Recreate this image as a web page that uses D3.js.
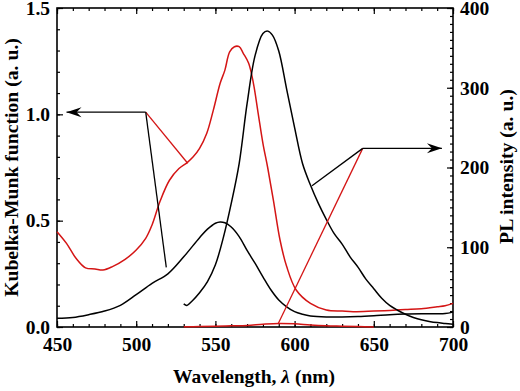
<!DOCTYPE html>
<html>
<head>
<meta charset="utf-8">
<script src="https://cdn.jsdelivr.net/npm/d3@7"></script>
<style>
  body { margin: 0; background: #fff; }
</style>
</head>
<body>
<div id="chart"></div>
<script>
// Kubelka-Munk (left axis)
const kmBlackNm  = [450,460,470,480,490,500,510,520,530,540,545,550,553,556,560,565,570,575,580,585,590,595,600,605,610,620,630,640,650,660,670,680,690,695,700];
const kmBlackVal = [0.041,0.045,0.058,0.075,0.102,0.152,0.205,0.25,0.33,0.42,0.46,0.488,0.494,0.49,0.47,0.425,0.36,0.3,0.236,0.175,0.127,0.095,0.072,0.06,0.052,0.047,0.047,0.049,0.053,0.058,0.061,0.062,0.062,0.063,0.07];

const kmRedNm  = [450,456,462,468,474,479,485,493,500,506,510,515,521,527,532,536,540,544.5,548.7,553,556,559,562,565,567.6,571,574,577,580,583,586.6,590.8,595,601,610,620,630,637,650,660,670,680,690,695,700];
const kmRedVal = [0.448,0.393,0.323,0.278,0.273,0.268,0.284,0.318,0.362,0.417,0.48,0.59,0.69,0.745,0.772,0.8,0.84,0.91,1.02,1.146,1.208,1.294,1.318,1.318,1.287,1.24,1.146,1.005,0.864,0.75,0.597,0.409,0.284,0.174,0.111,0.08,0.075,0.072,0.075,0.078,0.082,0.086,0.095,0.1,0.111];

// PL intensity (right axis)
const plBlackNm  = [530,532,535,540,545,550,555,560,565,570,575,580,583,586,590,595,600,605,610,615,620,625,630,635,640,645,650,655,660,665,670,675,680,685,690,695,700];
const plBlackVal = [29,27,32,43,57,78,112,155,205,280,340,368,371,366,346,298,250,205,178,155,135,117,104,88,75,60,48,36,27,21,16,12,9,7,5.5,4.5,3.5];

const plRedNm  = [530,540,550,560,570,580,590,600,610,620,630,640,650];
const plRedVal = [0.3,0.6,1,1.5,2,3.5,4.5,4,2.5,1.5,1,0.5,0];

// annotation arrows: joint, tip, red end, black end
const leftArrow  = { joint: [506, 1.01], tip: [456, 1.01], red: [532.5, 0.77], black: [519, 0.28] };
const rightArrow = { joint: [643, 224], tip: [693, 224], black: [611, 177], red: [589.7, 4.5] };

const xTicks = [450, 500, 550, 600, 650, 700];
const yLeftTicks = [0, 0.5, 1.0, 1.5];
const yRightTicks = [0, 100, 200, 300, 400];

const FONT = '"Liberation Serif", "Times New Roman", serif';
const RED = "#d41515";

const W = 520, H = 391;
const margin = { top: 8, right: 67, bottom: 64, left: 57 };
const width = W - margin.left - margin.right;
const height = H - margin.top - margin.bottom;

const svg = d3.select("#chart").append("svg")
  .attr("width", W).attr("height", H)
  .attr("font-family", FONT);
const g = svg.append("g")
  .attr("transform", "translate(" + margin.left + "," + margin.top + ")");

const x = d3.scaleLinear().domain([450, 700]).range([0, width]);
const yL = d3.scaleLinear().domain([0, 1.5]).range([height, 0]);
const yR = d3.scaleLinear().domain([0, 400]).range([height, 0]);

// minor ticks
const xMinor = d3.range(450, 701, 10);
const yLMinor = d3.range(0, 1.51, 0.1);
const yRMinor = d3.range(0, 401, 10);

function styleAxis(sel) {
  sel.attr("font-family", FONT).attr("font-size", 19.5).attr("font-weight", "bold");
  sel.select(".domain").remove();
  sel.selectAll("line").attr("stroke", "#000").attr("stroke-width", 1.2);
  sel.selectAll("text").attr("fill", "#000");
}

g.append("g").attr("transform", "translate(0," + height + ")")
  .call(d3.axisBottom(x).tickValues(xMinor).tickFormat("").tickSizeInner(-3).tickSizeOuter(0)).call(styleAxis);
g.append("g").attr("transform", "translate(0," + height + ")")
  .call(d3.axisBottom(x).tickValues(xTicks).tickSizeInner(-6).tickSizeOuter(0).tickPadding(10)).call(styleAxis);
g.append("g")
  .call(d3.axisTop(x).tickValues(xMinor).tickFormat("").tickSizeInner(-3).tickSizeOuter(0)).call(styleAxis);
g.append("g")
  .call(d3.axisTop(x).tickValues(xTicks).tickFormat("").tickSizeInner(-6).tickSizeOuter(0)).call(styleAxis);

g.append("g")
  .call(d3.axisLeft(yL).tickValues(yLMinor).tickFormat("").tickSizeInner(-3).tickSizeOuter(0)).call(styleAxis);
g.append("g")
  .call(d3.axisLeft(yL).tickValues(yLeftTicks).tickFormat(d3.format(".1f")).tickSizeInner(-6).tickSizeOuter(0).tickPadding(7)).call(styleAxis);

g.append("g").attr("transform", "translate(" + width + ",0)")
  .call(d3.axisRight(yR).tickValues(yRMinor).tickFormat("").tickSizeInner(-3).tickSizeOuter(0)).call(styleAxis);
g.append("g").attr("transform", "translate(" + width + ",0)")
  .call(d3.axisRight(yR).tickValues(yRightTicks).tickSizeInner(-6).tickSizeOuter(0).tickPadding(7)).call(styleAxis);

// frame
g.append("rect")
  .attr("width", width).attr("height", height)
  .attr("fill", "none").attr("stroke", "#000").attr("stroke-width", 1.6);

// curves
function drawCurve(nm, vals, yScale, color) {
  const pts = nm.map((d, i) => [d, vals[i]]);
  const line = d3.line()
    .x(d => x(d[0])).y(d => yScale(d[1]))
    .curve(d3.curveCatmullRom.alpha(0.5));
  g.append("path").datum(pts)
    .attr("d", line)
    .attr("fill", "none")
    .attr("stroke", color)
    .attr("stroke-width", 1.5);
}
drawCurve(kmRedNm, kmRedVal, yL, RED);
drawCurve(kmBlackNm, kmBlackVal, yL, "#000");
drawCurve(plRedNm, plRedVal, yR, RED);
drawCurve(plBlackNm, plBlackVal, yR, "#000");

// arrows
function drawArrow(a, yScale) {
  const P = p => [x(p[0]), yScale(p[1])];
  const j = P(a.joint), t = P(a.tip), r = P(a.red), b = P(a.black);
  g.append("line").attr("x1", j[0]).attr("y1", j[1]).attr("x2", r[0]).attr("y2", r[1])
    .attr("stroke", RED).attr("stroke-width", 1.3);
  g.append("line").attr("x1", j[0]).attr("y1", j[1]).attr("x2", b[0]).attr("y2", b[1])
    .attr("stroke", "#000").attr("stroke-width", 1.3);
  g.append("line").attr("x1", j[0]).attr("y1", j[1]).attr("x2", t[0]).attr("y2", t[1])
    .attr("stroke", "#000").attr("stroke-width", 1.3);
  const dir = Math.sign(t[0] - j[0]);
  const L = 15, hw = 5, notch = 10;
  g.append("path")
    .attr("d", "M" + t[0] + "," + t[1] +
      "L" + (t[0] - dir * L) + "," + (t[1] - hw) +
      "L" + (t[0] - dir * notch) + "," + t[1] +
      "L" + (t[0] - dir * L) + "," + (t[1] + hw) + "Z")
    .attr("fill", "#000");
}
drawArrow(leftArrow, yL);
drawArrow(rightArrow, yR);

// axis titles
svg.append("text")
  .attr("transform", "translate(11,167.5) rotate(-90)")
  .attr("text-anchor", "middle").attr("dominant-baseline", "central")
  .attr("font-size", 19.7).attr("font-weight", "bold")
  .text("Kubelka-Munk function (a. u.)");

svg.append("text")
  .attr("transform", "translate(506,166.5) rotate(-90)")
  .attr("text-anchor", "middle").attr("dominant-baseline", "central")
  .attr("font-size", 19.7).attr("font-weight", "bold")
  .text("PL intensity (a. u.)");

const xt = svg.append("text")
  .attr("x", 254).attr("y", 383)
  .attr("text-anchor", "middle")
  .attr("font-size", 19.5).attr("font-weight", "bold");
xt.append("tspan").text("Wavelength, ");
xt.append("tspan").attr("font-style", "italic").text("λ");
xt.append("tspan").text(" (nm)");
</script>
</body>
</html>
